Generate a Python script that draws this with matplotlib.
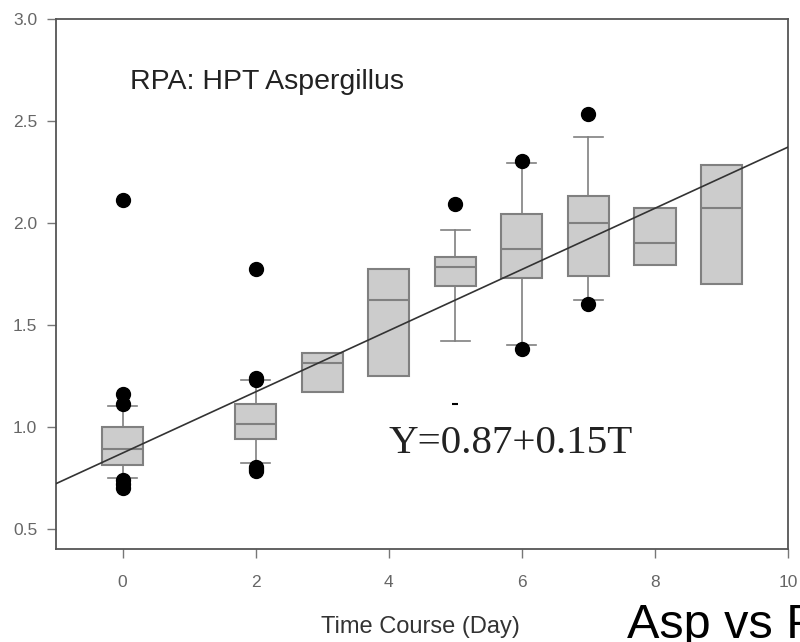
import matplotlib.pyplot as plt

# box plot data (day, q1, median, q3, lower whisker, upper whisker)
days = [0, 2, 3, 4, 5, 6, 7, 8, 9]
q1 = [0.81, 0.94, 1.17, 1.25, 1.69, 1.73, 1.74, 1.79, 1.70]
med = [0.89, 1.01, 1.31, 1.62, 1.78, 1.87, 2.00, 1.90, 2.07]
q3 = [1.00, 1.11, 1.36, 1.77, 1.83, 2.04, 2.13, 2.07, 2.28]
whis_lo = [0.75, 0.82, 1.17, 1.25, 1.42, 1.40, 1.62, 1.79, 1.70]
whis_hi = [1.10, 1.23, 1.36, 1.77, 1.965, 2.29, 2.42, 2.07, 2.28]
outliers = [
    [2.11, 1.16, 1.11, 0.74, 0.72, 0.70],
    [1.77, 1.24, 1.23, 0.80, 0.79, 0.78],
    [],
    [],
    [2.09],
    [2.30, 1.38],
    [2.53, 1.60],
    [],
    [],
]

# fitted line Y = a + b*T
intercept = 0.87
slope = 0.15

xlim = (-1, 10)
ylim = (0.4, 3.0)

fig = plt.figure(figsize=(8, 6.42), dpi=100)
ax = fig.add_axes([0.07, 0.145, 0.915, 0.826])

box_gray = '#cccccc'
edge_gray = '#808080'

stats = []
for i in range(len(days)):
    stats.append({'q1': q1[i], 'med': med[i], 'q3': q3[i],
                  'whislo': whis_lo[i], 'whishi': whis_hi[i], 'fliers': []})

res = ax.bxp(stats, positions=days, widths=0.62, patch_artist=True,
             showfliers=False, capwidths=0.44,
             boxprops=dict(facecolor=box_gray, edgecolor=edge_gray, linewidth=1.5),
             medianprops=dict(color=edge_gray, linewidth=1.5),
             whiskerprops=dict(color=edge_gray, linewidth=1.2),
             capprops=dict(color=edge_gray, linewidth=1.2), zorder=2)

# hide whiskers/caps that collapse onto the box edges
for i in range(len(days)):
    if whis_lo[i] >= q1[i]:
        res['whiskers'][2 * i].set_visible(False)
        res['caps'][2 * i].set_visible(False)
    if whis_hi[i] <= q3[i]:
        res['whiskers'][2 * i + 1].set_visible(False)
        res['caps'][2 * i + 1].set_visible(False)

# outlier points
for d, pts in zip(days, outliers):
    if pts:
        ax.plot([d] * len(pts), pts, 'o', color='black', markersize=10, zorder=4)

# odd little dash below day 5
ax.plot([5], [1.11], '_', color='black', markersize=5, markeredgewidth=1.5, zorder=4)

# regression line
ax.plot(list(xlim), [intercept + slope * x for x in xlim], color='#333333',
        linewidth=1.2, zorder=3)

ax.set_xlim(*xlim)
ax.set_ylim(*ylim)
ax.set_xticks([0, 2, 4, 6, 8, 10])
ax.set_xticklabels(['0', '2', '4', '6', '8', '10'])
ax.set_yticks([0.5, 1.0, 1.5, 2.0, 2.5, 3.0])
ax.set_yticklabels(['0.5', '1.0', '1.5', '2.0', '2.5', '3.0'])

for s in ax.spines.values():
    s.set_color('#555555')
    s.set_linewidth(1.3)
ax.tick_params(direction='out', length=6.5, width=1, color='#777777',
               labelsize=12.5, labelcolor='#666666', top=False, right=False)
ax.tick_params(axis='y', pad=7)
ax.tick_params(axis='x', pad=12)
for lab in ax.get_xticklabels() + ax.get_yticklabels():
    lab.set_family('Liberation Sans')

ax.text(0.11, 2.69, 'RPA: HPT Aspergillus', fontsize=20.5, family='Liberation Sans',
        color='#222222', va='center')
ax.text(3.99, 0.915, 'Y=0.87+0.15T', fontsize=29.5, family='Liberation Serif',
        color='#222222', va='center')

fig.text(0.526, 0.023, 'Time Course (Day)', fontsize=17, family='Liberation Sans',
         color='#333333', ha='center', va='center')
fig.text(627 / 800, 0.006, 'Asp vs P', fontsize=35, family='Liberation Sans',
         color='black', ha='left', va='baseline')

fig.savefig('out.png', dpi=100)
